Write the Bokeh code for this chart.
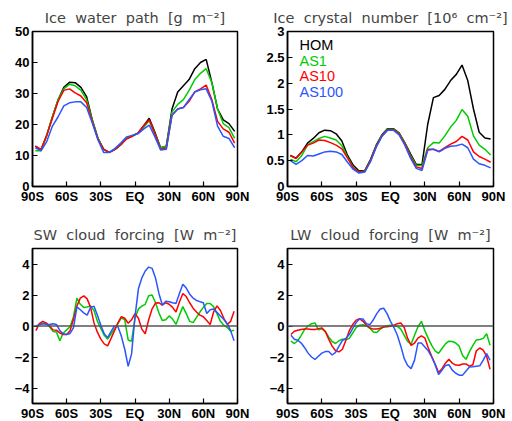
from bokeh.plotting import figure
from bokeh.layouts import column, row
from bokeh.models import Range1d, FixedTicker, Span, Label
from bokeh.embed import file_html
from bokeh.resources import INLINE

# ---------------- data ----------------
lat5 = [-87.5, -82.5, -77.5, -72.5, -67.5, -62.5, -57.5, -52.5, -47.5, -42.5,
        -37.5, -32.5, -27.5, -22.5, -17.5, -12.5, -7.5, -2.5, 2.5, 7.5,
        12.5, 17.5, 22.5, 27.5, 32.5, 37.5, 42.5, 47.5, 52.5, 57.5,
        62.5, 67.5, 72.5, 77.5, 82.5, 87.5]

lat3 = [-87, -84, -81, -78, -75, -72, -69, -66, -63, -60, -57, -54, -51, -48, -45,
        -42, -39, -36, -33, -30, -27, -24, -21, -18, -15, -12, -9, -6, -3, 0,
        3, 6, 9, 12, 15, 18, 21, 24, 27, 30, 33, 36, 39, 42, 45,
        48, 51, 54, 57, 60, 63, 66, 69, 72, 75, 78, 81, 84, 87]

# Ice water path [g m-2]
iwp_hom = [13, 11.8, 16.5, 22.5, 28, 32, 33.6, 33.5, 32, 29,
           21.5, 15.5, 12, 11, 12, 13.5, 15.5, 16.3, 17.2, 19.5,
           22, 17.5, 12.5, 13, 25, 30.5, 32.5, 34.5, 38, 40,
           41, 33.5, 25, 21.5, 20.3, 17.8]
iwp_as1 = [11.5, 11.5, 16.5, 22.5, 28, 31.5, 33, 32.5, 31, 28,
           21.5, 15.5, 12, 11, 12, 13.5, 15.5, 16.3, 17.2, 19,
           21.3, 17, 12.5, 13, 24, 26.5, 28, 31, 34.5, 36.5,
           38, 33.5, 25, 20.3, 19, 15.5]
iwp_as10 = [13, 12, 16.5, 22, 27.5, 31, 31.5, 30.2, 29.2, 27,
            21, 15.3, 12, 11, 12, 13.5, 15.3, 16.2, 17.2, 19.5,
            21.5, 17, 12, 12.5, 23, 25, 25.5, 27.5, 30.5, 31.5,
            32.7, 28, 21, 18.6, 17.5, 14]
iwp_as100 = [12.5, 11.5, 14.5, 19.5, 22.5, 26, 27, 27.3, 27.3, 25.5,
             20.5, 15, 11, 11, 12.3, 14, 16, 16.5, 17, 18.5,
             19.8, 16, 11.8, 12, 23, 25, 25.5, 28, 30.5, 31.2,
             31.5, 27.5, 19.5, 16.2, 15.5, 12.5]

# Ice crystal number [10^6 cm-2]
icn_hom = [0.6, 0.55, 0.67, 0.84, 0.93, 1.04, 1.09, 1.08, 1.02, 0.88,
           0.6, 0.41, 0.3, 0.31, 0.52, 0.8, 1.0, 1.12, 1.12, 1.04,
           0.85, 0.63, 0.43, 0.42, 1.2, 1.72, 1.76, 1.88, 2.05, 2.17,
           2.35, 2.05, 1.5, 1.05, 0.94, 0.92]
icn_as1 = [0.53, 0.48, 0.6, 0.8, 0.87, 0.93, 0.97, 0.94, 0.9, 0.79,
           0.57, 0.37, 0.28, 0.3, 0.5, 0.78, 0.99, 1.11, 1.11, 1.03,
           0.84, 0.6, 0.41, 0.4, 0.75, 0.85, 0.84, 0.98, 1.15, 1.28,
           1.49, 1.36, 0.98, 0.8, 0.72, 0.61]
icn_as10 = [0.6, 0.54, 0.67, 0.8, 0.84, 0.9, 0.89, 0.85, 0.8, 0.73,
            0.55, 0.36, 0.28, 0.29, 0.5, 0.77, 0.98, 1.1, 1.1, 1.02,
            0.83, 0.58, 0.38, 0.35, 0.72, 0.72, 0.68, 0.75, 0.82, 0.87,
            0.97, 0.9, 0.67, 0.58, 0.53, 0.47]
icn_as100 = [0.5, 0.43, 0.5, 0.6, 0.59, 0.63, 0.67, 0.68, 0.67, 0.62,
             0.47, 0.33, 0.26, 0.28, 0.48, 0.76, 0.97, 1.09, 1.09, 1.0,
             0.8, 0.55, 0.35, 0.31, 0.7, 0.72, 0.67, 0.74, 0.78, 0.79,
             0.82, 0.75, 0.53, 0.44, 0.41, 0.36]

# SW cloud forcing [W m-2] (differences)
sw_as1 = [-0.05, 0.1, 0.2, 0.15, -0.05, -0.35, -0.38, -0.95, -0.45, -0.25,
          -0.05, 0.6, 1.8, 1.4, 1.2, 1.23, 1.3, 1.0, 0.3, -0.15,
          -0.6, -0.85, -0.5, -0.2, 0.15, 0.52, 0.4, -0.9, -0.98, 0.5,
          1.1, 1.28, 1.4, 1.95, 2.0, 1.5, 0.85, 0.35, 0.4, 0.65,
          0.45, 0.1, 0.7, 1.25, 0.8, 0.3, 0.22, 0.55, 0.9, 1.2,
          1.45, 1.45, 1.25, 0.8, 0.3, 0.05, -0.1, -0.33, -0.28]
sw_as10 = [-0.3, 0.15, 0.3, 0.2, 0.0, -0.25, -0.27, -0.45, -0.55, -0.55,
           -0.3, 0.44, 1.3, 1.8, 1.94, 1.75, 1.2, 0.2, -0.4, -0.85,
           -1.15, -1.28, -0.8, -0.3, 0.2, 0.6, 0.5, 0.18, 0.4, 0.8,
           0.5, -0.2, -0.5, 0.4, 1.1, 1.48, 1.5, 1.34, 1.5, 1.4,
           1.2, 0.9, 1.55, 2.1, 1.9, 1.5, 1.15, 0.9, 0.7, 0.6,
           0.35, 0.1, 0.9, 1.3, 1.0, 0.5, 0.1, 0.3, 0.95]
sw_as100 = [0.0, 0.08, 0.15, 0.12, 0.1, 0.15, 0.1, -0.3, -0.5, -0.55,
            -0.48, -0.1, 1.23, 1.05, 0.85, 0.7, 1.2, 1.28, 0.7, 0.05,
            -0.5, -0.75, -0.35, 0.0, -0.05, -0.65, -1.5, -2.6, -1.8, 0.6,
            2.4, 3.1, 3.55, 3.8, 3.72, 3.1, 2.1, 1.35, 1.6, 1.57,
            1.5, 1.45, 2.1, 2.7, 2.45, 2.05, 1.8, 1.65, 1.57, 1.5,
            0.8, 1.05, 1.1, 0.88, 0.65, 0.42, 0.15, -0.3, -0.95]

# LW cloud forcing [W m-2] (differences)
lw_as1 = [-0.98, -1.13, -0.95, -0.6, -0.22, 0.0, 0.15, 0.2, -0.25, -0.18,
          -0.35, -0.7, -1.0, -1.13, -0.95, -0.85, -0.89, -0.8, -0.45, -0.1,
          0.05, 0.08, 0.0, -0.15, -0.38, -0.42, -0.2, -0.05, 0.02, 0.05,
          0.02, -0.02, -0.2, -0.6, -1.0, -1.18, -0.6, -0.05, 0.3, -0.3,
          -0.8, -1.25, -1.6, -1.77, -1.45, -1.15, -0.98, -1.0, -1.1, -1.3,
          -1.9, -2.15, -1.65, -1.25, -0.9, -0.87, -0.8, -0.5, -1.24]
lw_as10 = [-0.55, -0.34, -0.27, -0.23, -0.2, -0.2, -0.22, -0.23, -0.17, -0.12,
           -0.35, -0.85, -1.3, -1.6, -1.67, -1.5, -0.92, -0.3, 0.1, 0.38,
           0.48, 0.3, 0.05, -0.13, -0.2, -0.2, -0.15, -0.07, -0.05, -0.02,
           0.05, 0.15, 0.2, -0.1, -0.8, -1.25, -1.1, -0.78, -0.64, -0.77,
           -1.4, -1.95, -2.45, -3.0, -2.75, -2.4, -2.15, -2.4, -2.52, -2.53,
           -2.45, -2.45, -2.6, -2.5, -1.6, -1.42, -1.55, -1.95, -2.8]
lw_as100 = [-0.6, -0.85, -0.92, -1.1, -1.4, -1.75, -2.0, -2.16, -1.95, -1.75,
            -1.65, -1.65, -1.87, -1.7, -1.3, -0.92, -0.8, -0.55, -0.15, 0.22,
            0.45, 0.45, 0.15, 0.09, 0.4, 0.8, 1.1, 1.15, 0.8, 0.3,
            -0.1, -0.6, -1.3, -2.1, -2.55, -2.75, -2.2, -1.1, -1.1, -1.35,
            -1.6, -2.0, -2.5, -3.13, -2.85, -2.55, -2.5, -2.85, -3.05, -3.17,
            -3.17, -2.9, -2.65, -2.63, -2.6, -2.57, -2.2, -1.78, -2.21]

experiments = ["HOM", "AS1", "AS10", "AS100"]
x_ticks = [-90, -60, -30, 0, 30, 60, 90]
x_tick_labels = ["90S", "60S", "30S", "EQ", "30N", "60N", "90N"]
iwp_ticks = [0, 10, 20, 30, 40, 50]
icn_ticks = [0, 0.5, 1, 1.5, 2, 2.5, 3]
icn_tick_labels = ["0", "0.5", "1", "1.5", "2", "2.5", "3"]
cf_ticks = [-4, -2, 0, 2, 4]
cf_tick_labels = ["\u22124", "\u22122", "0", "2", "4"]

COLORS = {"HOM": "black", "AS1": "#00cc00", "AS10": "#ff0000", "AS100": "#2b55ff"}
NB = "\u00a0\u00a0"


def make_fig(title, yr, yticks, ylabels, left, right, top, bottom, fw):
    p = figure(frame_width=fw, frame_height=155,
               x_range=Range1d(-90, 90), y_range=Range1d(*yr),
               output_backend="svg", toolbar_location=None,
               min_border_left=left, min_border_right=right,
               min_border_top=top, min_border_bottom=bottom)
    p.title.text = title
    p.title.align = "center"
    p.title.text_font = "DejaVu Sans"
    p.title.text_font_size = "14.5px"
    p.title.text_font_style = "normal"
    p.title.standoff = 12
    p.grid.visible = False
    p.outline_line_color = "black"
    p.outline_line_width = 1.5
    p.background_fill_color = "white"
    p.border_fill_color = "white"
    p.xaxis.ticker = FixedTicker(ticks=x_ticks)
    p.xaxis.major_label_overrides = dict(zip(x_ticks, x_tick_labels))
    p.yaxis.ticker = FixedTicker(ticks=yticks)
    p.yaxis.major_label_overrides = dict(zip(yticks, ylabels))
    for ax in (p.xaxis, p.yaxis):
        ax.major_tick_in = 5
        ax.major_tick_out = 0
        ax.minor_tick_line_color = None
        ax.axis_line_width = 1.5
        ax.major_tick_line_width = 1.2
        ax.major_label_text_font = "Liberation Sans"
        ax.major_label_text_font_style = "bold"
        ax.major_label_text_font_size = "13px"
        ax.major_label_text_color = "black"
    p.xaxis.major_label_standoff = 2
    p.yaxis.major_label_standoff = 3
    return p


p1 = make_fig("Ice" + NB + "water" + NB + "path" + NB + "[g" + NB + "m\u207b\u00b2]",
              (0, 50), iwp_ticks, [str(t) for t in iwp_ticks], 32, 19, 31, 24, 205)
for name, ys in zip(experiments, [iwp_hom, iwp_as1, iwp_as10, iwp_as100]):
    p1.line(lat5, ys, line_color=COLORS[name], line_width=1.5)

p2 = make_fig("Ice" + NB + "crystal" + NB + "number" + NB + "[10\u2076" + NB + "cm\u207b\u00b2]",
              (0, 3), icn_ticks, icn_tick_labels, 31, 19, 31, 24, 206)
for name, ys in zip(experiments, [icn_hom, icn_as1, icn_as10, icn_as100]):
    p2.line(lat5, ys, line_color=COLORS[name], line_width=1.5)
for i, name in enumerate(experiments):
    p2.add_layout(Label(x=-79.5, y=2.73 - 0.3 * i, text=name,
                        text_color=COLORS[name], text_font="Liberation Sans",
                        text_font_size="14.5px", text_baseline="middle"))

p3 = make_fig("SW" + NB + "cloud" + NB + "forcing" + NB + "[W" + NB + "m\u207b\u00b2]",
              (-5, 5), cf_ticks, cf_tick_labels, 32, 19, 38, 18, 205)
p3.add_layout(Span(location=0, dimension="width", line_color="#555555", line_width=1.5))
for name, ys in zip(experiments[1:], [sw_as1, sw_as10, sw_as100]):
    p3.line(lat3, ys, line_color=COLORS[name], line_width=1.5)

p4 = make_fig("LW" + NB + "cloud" + NB + "forcing" + NB + "[W" + NB + "m\u207b\u00b2]",
              (-5, 5), cf_ticks, cf_tick_labels, 31, 19, 38, 18, 206)
p4.add_layout(Span(location=0, dimension="width", line_color="#555555", line_width=1.5))
for name, ys in zip(experiments[1:], [lw_as1, lw_as10, lw_as100]):
    p4.line(lat3, ys, line_color=COLORS[name], line_width=1.5)

layout = column(row(p1, p2), row(p3, p4))
open("out.html", "w").write(file_html(layout, INLINE))
